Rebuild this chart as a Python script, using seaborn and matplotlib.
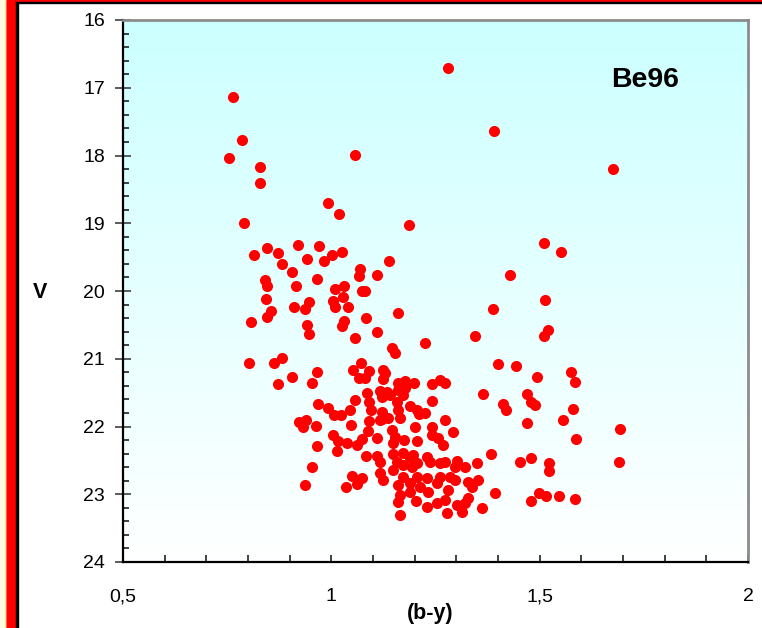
import numpy as np
import pandas as pd
import matplotlib
matplotlib.use("Agg")
import matplotlib.pyplot as plt
from matplotlib.colors import LinearSegmentedColormap
from matplotlib.patches import Rectangle
from matplotlib.ticker import MultipleLocator, FixedLocator, FuncFormatter
import seaborn as sns

# Colour-magnitude diagram of the open cluster Be96: (b-y) colour vs V magnitude
by_color = [
    1.280, 0.764, 0.786, 0.754, 0.829, 0.829, 1.057, 1.390, 1.676, 0.790,
    0.992, 1.018, 1.186, 0.814, 0.846, 0.872, 0.882, 0.920, 0.970, 0.942,
    0.906, 0.982, 1.002, 1.026, 1.138, 0.841, 0.846, 0.915, 0.966, 1.069,
    1.066, 1.110, 1.009, 1.030, 1.028, 1.074, 1.081, 0.843, 0.855, 0.846,
    0.807, 0.910, 0.946, 0.937, 1.004, 1.009, 1.040, 1.160, 1.083, 0.942,
    0.946, 1.030, 1.026, 1.057, 1.110, 1.146, 1.153, 1.225, 1.345, 0.802,
    0.862, 0.882, 0.906, 0.872, 0.966, 0.954, 1.071, 1.052, 1.090, 1.066,
    1.081, 1.124, 1.129, 1.124, 1.160, 1.177, 1.198, 1.242, 1.261, 1.273,
    1.117, 1.134, 1.122, 1.141, 1.160, 1.172, 1.177, 1.086, 1.057, 0.968,
    0.992, 1.006, 1.023, 1.045, 1.090, 1.095, 1.158, 1.160, 1.189, 1.206,
    1.225, 1.242, 1.122, 1.136, 1.122, 1.165, 1.210, 0.922, 0.939, 0.932,
    0.963, 1.047, 1.090, 1.117, 1.004, 1.016, 1.038, 1.062, 1.074, 1.088,
    1.110, 1.146, 1.153, 1.148, 1.174, 1.201, 1.206, 1.242, 1.242, 1.256,
    1.273, 1.292, 1.268, 0.966, 1.014, 1.083, 1.110, 1.117, 1.148, 1.172,
    1.189, 1.196, 1.158, 1.172, 1.194, 1.206, 1.230, 1.237, 1.261, 1.273,
    1.302, 1.321, 1.350, 1.383, 0.954, 0.937, 1.050, 1.074, 1.062, 1.035,
    1.117, 1.124, 1.148, 1.160, 1.172, 1.189, 1.189, 1.206, 1.213, 1.232,
    1.230, 1.254, 1.261, 1.285, 1.297, 1.280, 1.328, 1.352, 1.338, 1.393,
    1.160, 1.165, 1.203, 1.230, 1.254, 1.273, 1.278, 1.302, 1.321, 1.328,
    1.314, 1.362, 1.165, 1.297, 1.510, 1.429, 1.388, 1.513, 1.551, 1.520,
    1.510, 1.400, 1.443, 1.575, 1.585, 1.494, 1.364, 1.412, 1.419, 1.470,
    1.479, 1.489, 1.580, 1.556, 1.470, 1.693, 1.587, 1.453, 1.479, 1.522,
    1.522, 1.690, 1.479, 1.498, 1.515, 1.546, 1.585,
]
v_mag = [
    16.71, 17.14, 17.77, 18.04, 18.17, 18.41, 17.99, 17.64, 18.20, 19.00,
    18.70, 18.86, 19.03, 19.47, 19.37, 19.44, 19.60, 19.32, 19.34, 19.53,
    19.72, 19.56, 19.47, 19.42, 19.56, 19.84, 19.93, 19.93, 19.82, 19.68,
    19.78, 19.76, 19.97, 19.93, 20.09, 20.00, 20.00, 20.12, 20.30, 20.38,
    20.46, 20.24, 20.16, 20.27, 20.15, 20.24, 20.24, 20.32, 20.40, 20.50,
    20.63, 20.44, 20.52, 20.69, 20.61, 20.84, 20.92, 20.77, 20.66, 21.06,
    21.06, 20.99, 21.27, 21.37, 21.20, 21.36, 21.06, 21.17, 21.18, 21.28,
    21.28, 21.17, 21.21, 21.30, 21.36, 21.33, 21.36, 21.37, 21.31, 21.36,
    21.48, 21.49, 21.56, 21.53, 21.46, 21.53, 21.43, 21.51, 21.61, 21.67,
    21.73, 21.83, 21.83, 21.76, 21.64, 21.76, 21.64, 21.76, 21.70, 21.76,
    21.80, 21.62, 21.79, 21.87, 21.89, 21.87, 21.82, 21.93, 21.90, 22.01,
    21.99, 21.98, 21.92, 21.90, 22.13, 22.21, 22.24, 22.27, 22.18, 22.07,
    22.17, 22.05, 22.15, 22.24, 22.20, 22.01, 22.21, 22.01, 22.13, 22.17,
    21.90, 22.08, 22.27, 22.29, 22.36, 22.44, 22.44, 22.52, 22.41, 22.39,
    22.46, 22.42, 22.52, 22.57, 22.60, 22.54, 22.45, 22.52, 22.54, 22.52,
    22.51, 22.60, 22.54, 22.41, 22.60, 22.86, 22.73, 22.76, 22.85, 22.89,
    22.69, 22.79, 22.64, 22.86, 22.75, 22.83, 22.97, 22.75, 22.89, 22.97,
    22.76, 22.83, 22.75, 22.75, 22.79, 22.94, 22.82, 22.79, 22.89, 22.98,
    23.11, 23.01, 23.10, 23.19, 23.13, 23.08, 23.28, 23.16, 23.13, 23.06,
    23.26, 23.20, 23.31, 22.60, 19.29, 19.76, 20.27, 20.13, 19.42, 20.58,
    20.66, 21.08, 21.11, 21.20, 21.34, 21.27, 21.52, 21.67, 21.76, 21.52,
    21.64, 21.68, 21.74, 21.90, 21.95, 22.04, 22.18, 22.52, 22.46, 22.54,
    22.66, 22.52, 23.10, 22.98, 23.03, 23.03, 23.07,
]

x_ticks = [0.5, 1.0, 1.5, 2.0]
y_ticks = [16, 17, 18, 19, 20, 21, 22, 23, 24]
cluster_name = "Be96"
x_label = "(b-y)"
y_label = "V"

df = pd.DataFrame({"b_y": by_color, "V": v_mag})

plt.rcParams["font.family"] = ["Liberation Sans", "DejaVu Sans"]

W, H = 762, 628
fig = plt.figure(figsize=(W / 100, H / 100), dpi=100)
fig.patch.set_facecolor("white")

# Window-style frame along the left and top edges
fig.patches.extend([
    Rectangle((0, 0), 6 / W, 1, transform=fig.transFigure, color="#FFFCDC", zorder=0),
    Rectangle((6 / W, 0), 1 / W, 1, transform=fig.transFigure, color="#FF8040", zorder=0),
    Rectangle((7 / W, 0), 9 / W, 1, transform=fig.transFigure, color="#FF0000", zorder=0),
    Rectangle((16 / W, 0), 1.5 / W, 1, transform=fig.transFigure, color="#000000", zorder=0),
    Rectangle((16 / W, 1 - 1.5 / H), 1, 1.5 / H, transform=fig.transFigure, color="#FF0000", zorder=0),
    Rectangle((16 / W, 1 - 2.6 / H), 1, 1.1 / H, transform=fig.transFigure, color="#000000", zorder=0),
])

ax = fig.add_axes([123 / W, 1 - 562 / H, 625 / W, 542 / H])

# Cyan-to-white vertical gradient behind the data
grad_cmap = LinearSegmentedColormap.from_list("sky", ["#FFFFFF", "#CCFFFF"])
ax.imshow(np.linspace(0, 1, 256)[:, None], cmap=grad_cmap, origin="lower",
          extent=[0, 1, 0, 1], transform=ax.transAxes, aspect="auto", zorder=0)

sns.scatterplot(data=df, x="b_y", y="V", color="#FF0000", s=64, linewidth=0,
                ax=ax, zorder=3, legend=False)

ax.set_xlim(x_ticks[0], x_ticks[-1])
ax.set_ylim(y_ticks[-1], y_ticks[0])

ax.xaxis.set_major_locator(FixedLocator(x_ticks))
ax.xaxis.set_minor_locator(MultipleLocator(0.1))
ax.yaxis.set_major_locator(FixedLocator(y_ticks))
ax.yaxis.set_minor_locator(MultipleLocator(0.2))
ax.xaxis.set_major_formatter(FuncFormatter(lambda v, p: f"{v:g}".replace(".", ",")))
ax.yaxis.set_major_formatter(FuncFormatter(lambda v, p: f"{v:g}"))

ax.tick_params(axis="x", which="major", direction="in", length=5, width=1.2,
               color="#202020", labelsize=14, pad=19)
ax.tick_params(axis="x", which="minor", direction="in", length=5, width=1.2,
               color="#202020")
ax.tick_params(axis="y", which="major", direction="inout", length=12, width=1.2,
               color="#404040", labelsize=14, pad=7)
ax.tick_params(axis="y", which="minor", direction="in", length=4, width=1.2,
               color="#202020")

for side in ("left", "bottom"):
    ax.spines[side].set_color("#000000")
    ax.spines[side].set_linewidth(1.6)
for side in ("top", "right"):
    ax.spines[side].set_color("#8C8C8C")
    ax.spines[side].set_linewidth(2)

ax.set_xlabel("")
ax.set_ylabel("")
fig.text(430 / W, 1 - 614 / H, x_label, ha="center", va="center",
         fontsize=15.5, fontweight="bold")
fig.text(40 / W, 1 - 292 / H, y_label, ha="center", va="center",
         fontsize=15.5, fontweight="bold")
ax.text(645 / W, 1 - 80 / H, cluster_name, transform=fig.transFigure,
        ha="center", va="center", fontsize=20.5, fontweight="bold", zorder=5)

fig.savefig("out.png", dpi=100)
